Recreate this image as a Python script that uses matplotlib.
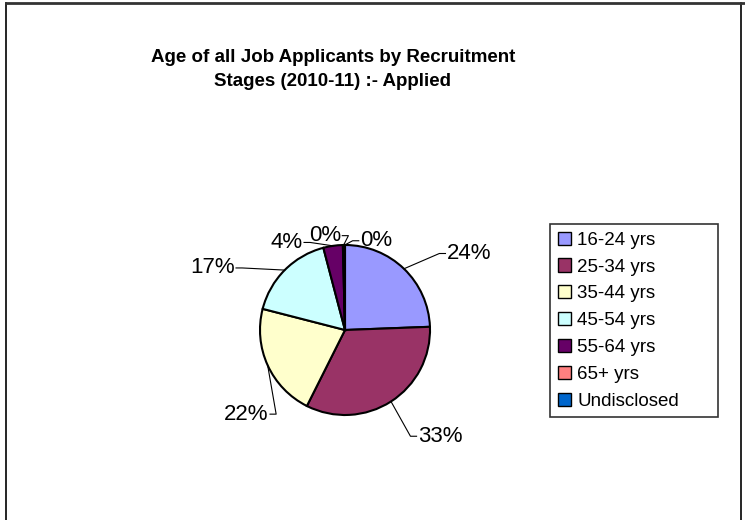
import numpy as np
import matplotlib.pyplot as plt
from matplotlib.lines import Line2D

plt.rcParams['font.family'] = ['Liberation Sans', 'DejaVu Sans']

categories = ['16-24 yrs', '25-34 yrs', '35-44 yrs', '45-54 yrs',
              '55-64 yrs', '65+ yrs', 'Undisclosed']
shares = [24.4, 33.0, 21.6, 16.9, 3.7, 0.3, 0.1]
labels = ['24%', '33%', '22%', '17%', '4%', '0%', '0%']
colors = ['#9999FF', '#993366', '#FFFFCC', '#CCFFFF', '#660066', '#FF8080', '#0066CC']

# label placement (radius units, relative to pie centre)
label_pos = [(1.20, 0.90, 'left'), (0.86, -1.25, 'left'), (-0.90, -0.99, 'right'),
             (-1.30, 0.73, 'right'), (-0.50, 1.03, 'right'), (-0.05, 1.11, 'right'),
             (0.18, 1.05, 'left')]

W, H = 745, 520
fig = plt.figure(figsize=(W / 100, H / 100), dpi=100)

# chart frame
fig.add_artist(Line2D([6 / W, 6 / W], [0, 1 - 3 / H], color='black', lw=1.2))
fig.add_artist(Line2D([741 / W, 741 / W], [0, 1 - 3 / H], color='black', lw=1.2))
fig.add_artist(Line2D([6 / W, 1], [1 - 3 / H, 1 - 3 / H], color='#333333', lw=2))

fig.text(333 / W, 1 - 58 / H, 'Age of all Job Applicants by Recruitment',
         ha='center', va='center', fontsize=13.5, fontweight='bold')
fig.text(333 / W, 1 - 81 / H, 'Stages (2010-11) :- Applied',
         ha='center', va='center', fontsize=13.5, fontweight='bold')

R = 85
cx, cy = 345, 330
half = 150
ax = fig.add_axes([(cx - half) / W, 1 - (cy + half) / H, 2 * half / W, 2 * half / H])

wedges, _ = ax.pie(shares, colors=colors, startangle=90, counterclock=False,
                   radius=1, wedgeprops=dict(edgecolor='black', linewidth=1.5))
lim = half / R
ax.set_xlim(-lim, lim)
ax.set_ylim(-lim, lim)
ax.set_aspect('equal')
ax.axis('off')

for w, lab, (lx, ly, side) in zip(wedges, labels, label_pos):
    mid = np.deg2rad((w.theta1 + w.theta2) / 2)
    ex, ey = np.cos(mid), np.sin(mid)
    step = 0.09 if side == 'left' else -0.09
    ax.plot([ex, lx - step, lx - step * 0.2], [ey, ly, ly], color='black', lw=0.8)
    ax.text(lx, ly, lab, ha=side, va='center', fontsize=16)

handles = [plt.Rectangle((0, 0), 1, 1, facecolor=c, edgecolor='black', lw=1) for c in colors]
leg = fig.legend(handles, categories, loc='upper left',
                 bbox_to_anchor=(550 / W, 1 - 224 / H, 168 / W, 0), mode='expand',
                 fontsize=13.5, frameon=True, fancybox=False,
                 handlelength=0.7, handleheight=0.7,
                 handletextpad=0.35, labelspacing=0.52, borderpad=0.4,
                 borderaxespad=0)
leg.get_frame().set_edgecolor('black')
leg.get_frame().set_linewidth(1.2)

fig.savefig('out.png', dpi=100)
